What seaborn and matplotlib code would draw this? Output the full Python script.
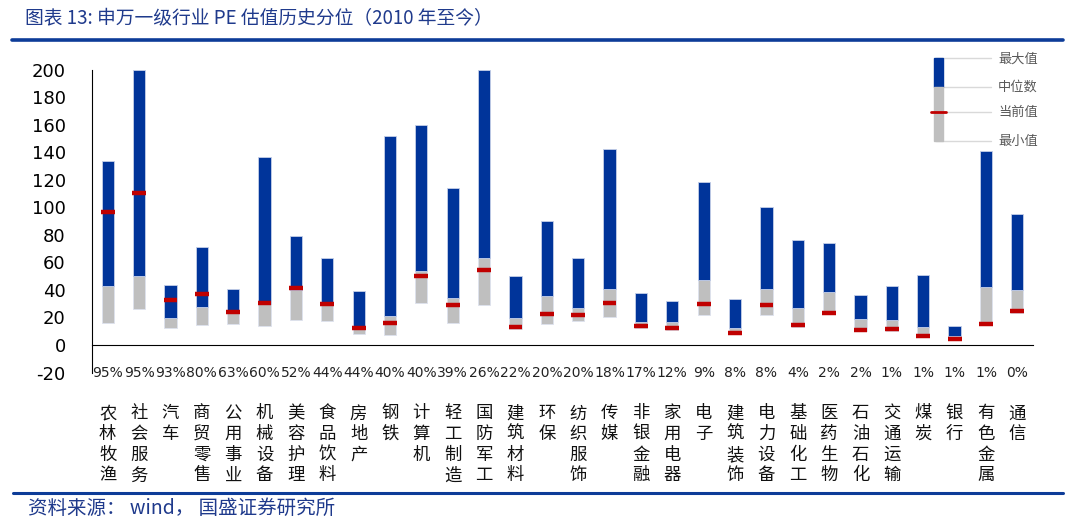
import numpy as np
import matplotlib
matplotlib.use("Agg")
import matplotlib.pyplot as plt
import seaborn as sns
from matplotlib.patches import Rectangle

# DATA

industries = [
    "农林牧渔", "社会服务", "汽车", "商贸零售", "公用事业", "机械设备",
    "美容护理", "食品饮料", "房地产", "钢铁", "计算机", "轻工制造",
    "国防军工", "建筑材料", "环保", "纺织服饰", "传媒", "非银金融",
    "家用电器", "电子", "建筑装饰", "电力设备", "基础化工", "医药生物",
    "石油石化", "交通运输", "煤炭", "银行", "有色金属", "通信"
]

percentile = [95, 95, 93, 80, 63, 60, 52, 44, 44, 40, 40, 39, 26, 22, 20,
              20, 18, 17, 12, 9, 8, 8, 4, 2, 2, 1, 1, 1, 1, 0]

pe_max = [133.8, 200.0, 43.4, 71.3, 40.5, 136.2, 79.3, 62.8, 39.3, 151.5,
          160.0, 113.7, 200.0, 50.4, 89.7, 63.0, 142.3, 37.8, 32.2, 118.3,
          33.5, 100.1, 76.4, 74.4, 36.4, 43.1, 50.7, 14.1, 140.6, 95.0]

pe_median = [42.9, 50.2, 19.6, 27.4, 23.0, 29.6, 40.0, 31.5, 13.8, 21.3,
             53.8, 33.9, 63.5, 19.4, 35.9, 27.2, 40.7, 16.7, 16.5, 47.5,
             12.6, 40.5, 26.7, 38.3, 18.9, 18.4, 13.1, 6.3, 42.4, 40.2]

pe_min = [16.2, 26.4, 12.4, 14.3, 15.0, 13.6, 18.4, 17.7, 7.8, 7.0,
          30.3, 15.8, 29.1, 11.4, 15.5, 17.7, 20.4, 12.0, 10.9, 21.6,
          7.8, 21.6, 13.3, 22.5, 10.2, 10.4, 6.1, 3.4, 14.3, 23.5]

pe_current = [96.2, 110.3, 33.0, 37.1, 24.2, 30.5, 41.7, 29.6, 12.4, 16.2,
              50.4, 28.8, 54.3, 13.1, 22.3, 21.8, 30.3, 13.6, 12.4, 29.6,
              9.0, 28.8, 14.3, 23.5, 10.9, 11.6, 6.8, 4.1, 15.0, 25.0]

# STYLE

sns.set_style("white")
cjk = ["Noto Sans CJK SC", "DejaVu Sans"]
plt.rcParams["font.family"] = ["DejaVu Sans", "Noto Sans CJK SC"]
plt.rcParams["axes.unicode_minus"] = False

blue = "#00349A"
gray = "#BFBFBF"
red = "#C00000"
navy = "#1F3A8C"

pe_max = np.array(pe_max)
pe_median = np.array(pe_median)
pe_min = np.array(pe_min)
pe_current = np.array(pe_current)

fig = plt.figure(figsize=(10.8, 5.29), dpi=100)
ax = fig.add_axes([0.0852, 0.2958, 0.8713, 0.5728])

# BARS: gray = min..median, blue = median..max

sns.barplot(x=industries, y=pe_median - pe_min, bottom=pe_min,
            color=gray, saturation=1, width=0.39, errorbar=None,
            edgecolor="#dde2ee", linewidth=0.6, ax=ax)
sns.barplot(x=industries, y=pe_max - pe_median, bottom=pe_median,
            color=blue, saturation=1, width=0.39, errorbar=None,
            edgecolor="#c5cfe8", linewidth=0.6, ax=ax)

xpos = np.arange(len(industries))
ax.hlines(pe_current, xpos - 0.22, xpos + 0.22, color=red, lw=3.2, zorder=5)

# AXES

ax.set_xlim(-0.5, len(industries) - 0.5)
ax.set_ylim(-20, 200)
ax.set_yticks(np.arange(-20, 201, 20))
ax.tick_params(axis="y", direction="in", length=6, color="#808080",
               labelsize=13, pad=19, labelcolor="black")

ax.spines["top"].set_visible(False)
ax.spines["right"].set_visible(False)
ax.spines["left"].set_color("black")
ax.spines["bottom"].set_position(("data", 0))
ax.spines["bottom"].set_color("black")
ax.set_xticks(xpos + 0.5)
ax.set_xticklabels([])
ax.tick_params(axis="x", direction="in", length=6, color="#555555")
ax.set_xlabel("")
ax.set_ylabel("")

for i in xpos:
    ax.text(i, -20, f"{percentile[i]}%", ha="center", va="center",
            fontsize=10, color="#222222")
    ax.annotate("\n".join(industries[i]), xy=(i, -20), xytext=(0, -23),
                textcoords="offset points", ha="center", va="top",
                fontsize=12.5, family=cjk, linespacing=1.19, color="#111111")

# DECORATION LAYER (pixel coordinates)

deco = fig.add_axes([0, 0, 1, 1])
deco.set_xlim(0, 1080)
deco.set_ylim(529, 0)
deco.axis("off")
deco.patch.set_visible(False)

deco.text(25, 19, "图表 13: 申万一级行业 PE 估值历史分位（2010 年至今）",
          fontsize=13.5, color=navy, va="center", family=cjk)
deco.plot([12, 1063], [40, 40], color="#0D3C98", lw=2.6)
deco.plot([13, 1063], [493, 493], color="#0D3C98", lw=2.2)
deco.text(28, 508, "资料来源： wind， 国盛证券研究所",
          fontsize=14, color=navy, va="center", family=cjk)

# legend sketch
deco.add_patch(Rectangle((934, 58), 9, 28.7, color=blue))
deco.add_patch(Rectangle((934, 86.7), 9, 54, color=gray))
for ly in [58, 86.7, 111.7, 140.7]:
    deco.plot([936, 991], [ly, ly], color="#d9d9d9", lw=1, zorder=0)
deco.plot([931, 946], [111.7, 111.7], color=red, lw=2)
for ly, name in zip([59, 87, 112, 141.5], ["最大值", "中位数", "当前值", "最小值"]):
    deco.text(998, ly, name, fontsize=9.5, color="#595959", va="center",
              family=cjk)

fig.savefig("out.png", dpi=100)
